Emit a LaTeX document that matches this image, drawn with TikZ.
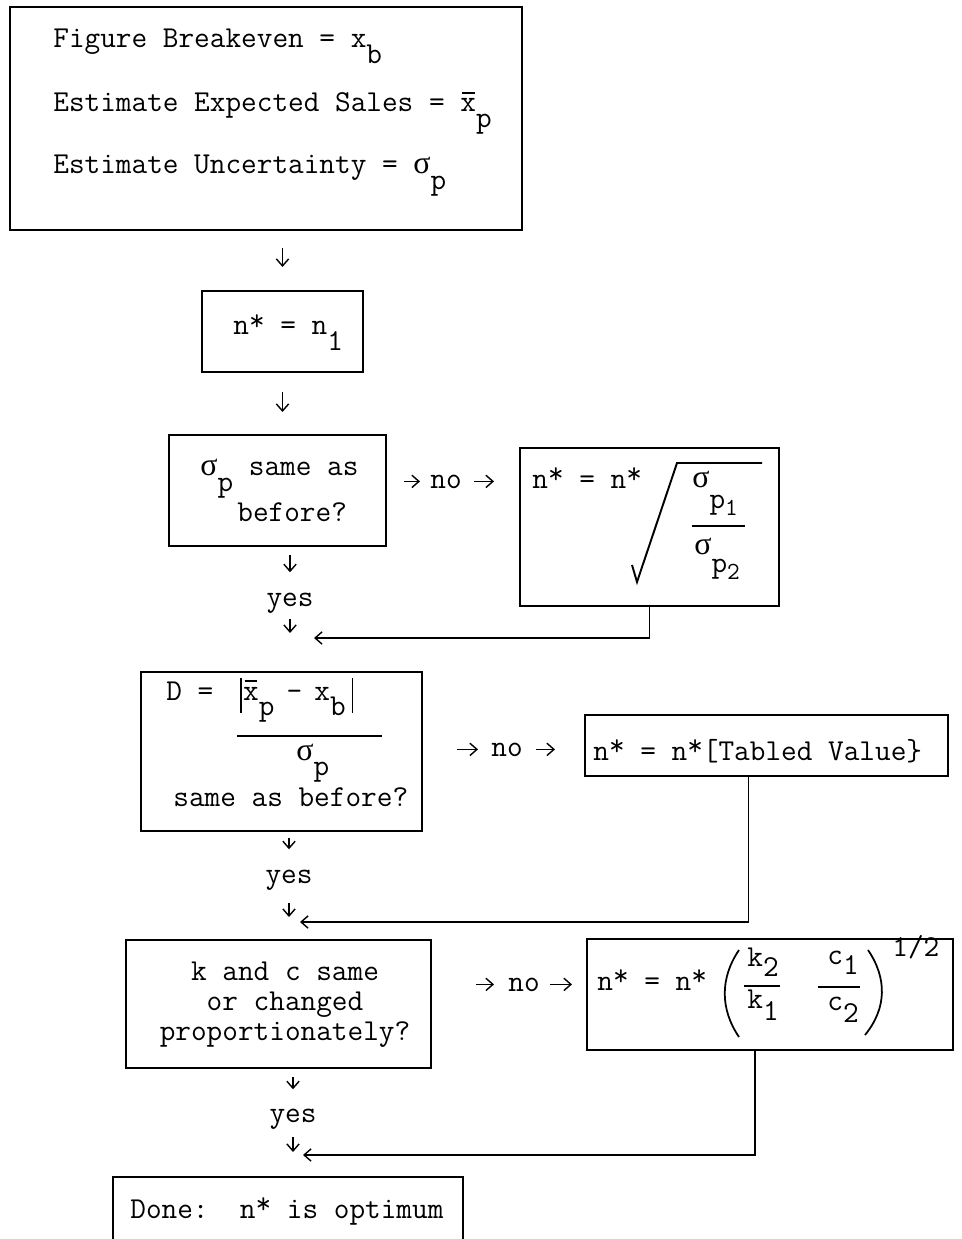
\documentclass[tikz,border=0pt]{standalone}
\usepackage{fontspec}
\newfontfamily\greekmono{Liberation Serif}[Scale=1.05]
\usetikzlibrary{calc, fit, arrows.meta}
\newcommand{\px}{0.02cm}
\newcommand{\tw}{\ttfamily\fontsize{17.3}{20}\selectfont}
\newcommand{\dn}[2][0.5em]{\raisebox{-#1}{#2}}
\newcommand{\dnn}[2][0.25em]{\raisebox{-#1}{\fontsize{14}{14}\selectfont #2}}
\newcommand{\sg}{{\greekmono σ}}
\newcommand{\st}{\raisebox{0.14em}{*}}
\newcommand{\xbar}{\rlap{\kern0.05em\rule[0.6em]{0.42em}{0.8pt}}x}
\newcommand{\vbar}{\rule[-0.43em]{0.9pt}{1.16em}}
\tikzstyle{frame} = [draw,line width=1.2pt,inner sep=0pt,outer sep=0pt]
\tikzstyle{txt} = [anchor=base west,inner sep=0pt,font=\tw]
\tikzstyle{lbl} = [anchor=base,inner sep=0pt,font=\tw]
\tikzstyle{arr} = [line width=0.8pt,-{Straight Barb[length=4pt,width=7pt]}]
\tikzset{stub/.style 2 args={arr,shorten <=#1*\px,shorten >=#2*\px}}

\begin{document}
\begin{tikzpicture}[x=\px,y=-\px]
	\useasboundingbox (0,0) rectangle (962,1239);
	\clip (0,0) rectangle (962,1239);
	
	%% boxes
	\node[frame,fit={(10,7) (522,230)}] (setup) {};
	\node[txt] (setup1) at (53,48) {Figure Breakeven = x\dn{b}};
	\node[txt] (setup2) at (53,112) {Estimate Expected Sales = \xbar\dn{p}};
	\node[txt] (setup3) at (53,174) {Estimate Uncertainty = \sg\dn{p}};
	
	\node[frame,fit={(202,291) (363,372)}] (start) {};
	\node[txt] (start1) at (233,335) {n\st{} = n\dn{1}};
	
	\node[frame,fit={(169,435) (386,546)}] (same1) {};
	\node[txt] (same1a) at (200,476) {\sg\dn{p} same as}; \node[txt] (same1b) at (237,521) {before?};
	
	\node[frame,fit={(520,448) (779,606)}] (fix1) {};
	\node[txt] (fix1a) at (532,488) {n\st{} = n\st};
	\node[txt] (fix1b) at (692,487) {\sg\dn[0.7em]{p\dnn{1}}};
	\node[txt] (fix1c) at (694,554) {\sg\dn[0.6em]{p\dnn{2}}};
	\draw[line width=1.1pt] (632,565) -- (637,582) -- (677,463) -- (762,463);
	\draw[line width=0.9pt] (692,526) -- (745,526);
	
	\node[frame,fit={(141,672) (422,831)}] (same2) {};
	\node[txt] (same2a) at (166,700) {D =\kern0.88em\vbar\kern0.05em\xbar\dn{p}\kern0.4em-\kern0.4em x\dn{b}\kern0.2em\vbar};
	\node[txt] (same2b) at (296,760) {\sg\dn{p}};
	\node[txt] (same2c) at (173,806) {same as before?};
	\draw[line width=0.9pt] (237,736) -- (382,736);
	
	\node[frame,fit={(585,715) (948,776)}] (fix2) {};
	\node[txt] (fix2a) at (593,760) {n\st{} = n\st[Tabled Value\}};
	
	\node[frame,fit={(126,940) (431,1068)}] (prop) {};
	\node[lbl] (prop1) at (285,980) {k and c same};
	\node[lbl] (prop2) at (285,1010) {or changed};
	\node[lbl] (prop3) at (285,1040) {proportionately?};
	
	\node[frame,fit={(587,939) (953,1050)}] (fix3) {};
	\node[txt] (fix3a) at (597,990) {n\st{} = n\st};
	\node[txt] (fix3b) at (747,966) {k\dn[0.35em]{2}}; \node[txt] (fix3c) at (747,1008) {k\dn[0.4em]{1}};
	\node[txt] (fix3d) at (827,964) {c\dn[0.35em]{1}}; \node[txt] (fix3e) at (827,1010) {c\dn[0.4em]{2}};
	\node[txt] (fix3f) at (892,956) {1/2};
	\draw[line width=0.9pt] (744,986) -- (780,986); \draw[line width=0.9pt] (818,987) -- (860,987);
	\draw[line width=1pt] (739,950) .. controls (720,978) and (720,1009) .. (739,1037);
	\draw[line width=1pt] (868,950) .. controls (887,978) and (887,1008) .. (865,1035);
	
	\node[frame,fit={(113,1177) (463,1270)}] (done) {};
	\node[txt] (done1) at (130,1218) {Done:\ \ n\st{} is optimum};
	
	%% labels
	\node[lbl] (no1) at (446,488) {no}; \node[lbl] (no2) at (507,756) {no}; \node[lbl] (no3) at (524,991) {no};
	\node[lbl] (yes1) at (290,606) {yes}; \node[lbl] (yes2) at (289,883) {yes}; \node[lbl] (yes3) at (293,1122) {yes};
	\coordinate (join1) at (314,638); \coordinate (join2) at (300,922); \coordinate (join3) at (303,1155);
	
	%% edges
	\draw[stub={18}{24}] (setup.south -| start.north) -- (start.north);
	\draw[stub={20}{23}] (start.south) -- (start.south |- same1.north);
	
	\draw[stub={18}{10}] (same1.east |- no1) -- (no1.west);
	\draw[stub={12}{26}] (no1.east) -- (no1.east -| fix1.west);
	\draw[stub={9}{20}] (same1.south -| yes1) -- (yes1.north);
	\draw[stub={6}{5}] (yes1.south) -- (yes1.south |- join1);
	\draw[arr] (fix1.south) |- (join1);
	
	\draw[stub={35}{13}] (same2.east |- no2) -- (no2.west);
	\draw[stub={13}{30}] (no2.east) -- (no2.east -| fix2.west);
	\draw[stub={7}{20}] (same2.south -| yes2) -- (yes2.north);
	\draw[stub={13}{5}] (yes2.south) -- (yes2.south |- join2);
	\draw[arr] ($(fix2.south)+(-18,0)$) |- (join2);
	
	\draw[stub={45}{14}] (prop.east |- no3) -- (no3.west);
	\draw[stub={10}{15}] (no3.east) -- (no3.east -| fix3.west);
	\draw[stub={9}{19}] (prop.south -| yes3) -- (yes3.north);
	\draw[stub={8}{3}] (yes3.south) -- (yes3.south |- join3);
	\draw[arr] ($(fix3.south)+(-15,0)$) |- (join3);
\end{tikzpicture}
\end{document}
